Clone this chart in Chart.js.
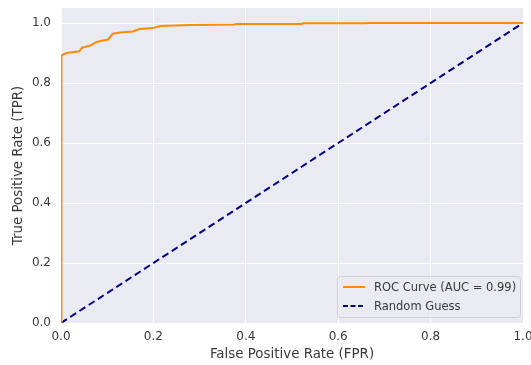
<!DOCTYPE html>
<html>
<head>
<meta charset="utf-8">
<script src="https://cdn.jsdelivr.net/npm/chart.js@4"></script>
<style>
    html, body { margin: 0; padding: 0; background: #fff; }
    #grafico { width: 531px; height: 365px; }
</style>
</head>
<body>
<div id="grafico"><canvas id="roc"></canvas></div>
<script>
// ROC curve (fpr, tpr)
const fpr = [0, 0, 0.002, 0.012, 0.04, 0.045, 0.065, 0.075, 0.085, 0.102, 0.112, 0.128, 0.155, 0.17, 0.198, 0.215, 0.28, 0.375, 0.38, 0.52, 0.525, 0.66, 0.665, 1];
const tpr = [0, 0.81, 0.892, 0.9, 0.906, 0.917, 0.926, 0.935, 0.94, 0.945, 0.964, 0.968, 0.972, 0.98, 0.983, 0.99, 0.993, 0.995, 0.997, 0.997, 0.999, 0.999, 1, 1];
const guessX = [0, 1];
const guessY = [0, 1];
const xTicks = [0, 0.2, 0.4, 0.6, 0.8, 1.0];
const yTicks = [0, 0.2, 0.4, 0.6, 0.8, 1.0];
const legendLabels = ['ROC Curve (AUC = 0.99)', 'Random Guess'];

const fonte = 'DejaVu Sans';
const corTexto = '#3a3a3a';

const rocPts = fpr.map((x, i) => ({ x: x, y: tpr[i] }));
const guessPts = guessX.map((x, i) => ({ x: x, y: guessY[i] }));

// fundo cinza do seaborn
const pluginFundo = {
    id: 'fundo',
    beforeDraw: function (chart) {
        let a = chart.chartArea;
        let ctx = chart.ctx;
        ctx.save();
        ctx.fillStyle = '#eaeaf2';
        ctx.fillRect(a.left, a.top, a.right - a.left, a.bottom - a.top);
        ctx.restore();
    }
};

// legenda dentro do gráfico, canto inferior direito
const pluginLegenda = {
    id: 'legendaDentro',
    afterDraw: function (chart) {
        let ctx = chart.ctx;
        let a = chart.chartArea;
        let w = 183, h = 41;
        let x = a.right - 3 - w;
        let y = a.bottom - 6 - h;
        ctx.save();
        ctx.fillStyle = 'rgba(234,234,242,0.8)';
        ctx.strokeStyle = '#d0d0d8';
        ctx.lineWidth = 1;
        ctx.beginPath();
        ctx.roundRect(x + 0.5, y + 0.5, w, h, 3);
        ctx.fill();
        ctx.stroke();

        ctx.font = '11.5px ' + fonte;
        ctx.textBaseline = 'middle';
        ctx.fillStyle = corTexto;
        let cores = ['#ff8c00', '#000080'];
        let dashes = [[5, 2.5], [5, 2.5]];
        dashes[0] = [];
        legendLabels.forEach((txt, i) => {
            let ly = y + 11 + i * 19;
            ctx.strokeStyle = cores[i];
            ctx.lineWidth = 2;
            ctx.setLineDash(dashes[i]);
            ctx.beginPath();
            ctx.moveTo(x + 6, ly);
            ctx.lineTo(x + 28, ly);
            ctx.stroke();
            ctx.setLineDash([]);
            ctx.fillText(txt, x + 37, ly + 1);
        });
        ctx.restore();
    }
};

new Chart(document.getElementById('roc'), {
    type: 'scatter',
    data: {
        datasets: [
            {
                label: legendLabels[0],
                data: rocPts,
                showLine: true,
                borderColor: '#ff8c00',
                borderWidth: 2,
                pointRadius: 0,
                tension: 0
            },
            {
                label: legendLabels[1],
                data: guessPts,
                showLine: true,
                borderColor: '#000080',
                borderWidth: 2,
                borderDash: [7, 4],
                pointRadius: 0
            }
        ]
    },
    options: {
        responsive: true,
        maintainAspectRatio: false,
        animation: false,
        layout: { padding: { top: 8, right: 8, left: 0, bottom: 0 } },
        scales: {
            x: {
                min: 0,
                max: 1,
                afterBuildTicks: s => { s.ticks = xTicks.map(v => ({ value: v })); },
                afterFit: s => { s.height = 42; s.paddingLeft = 0; s.paddingRight = 0; },
                grid: { color: '#ffffff', lineWidth: 1, drawTicks: false },
                border: { display: false },
                ticks: {
                    padding: 7,
                    color: corTexto,
                    font: { family: fonte, size: 12 },
                    maxRotation: 0,
                    callback: v => Number(v).toFixed(1)
                },
                title: {
                    display: true,
                    text: 'False Positive Rate (FPR)',
                    color: corTexto,
                    font: { family: fonte, size: 13.4 },
                    padding: { top: 1, bottom: 2 }
                }
            },
            y: {
                min: 0,
                max: 1.05,
                afterBuildTicks: s => { s.ticks = yTicks.map(v => ({ value: v })); },
                afterFit: s => { s.width = 61; s.paddingTop = 0; s.paddingBottom = 0; },
                grid: { color: '#ffffff', lineWidth: 1, drawTicks: false },
                border: { display: false },
                ticks: {
                    padding: 10,
                    color: corTexto,
                    font: { family: fonte, size: 12 },
                    callback: v => Number(v).toFixed(1)
                },
                title: {
                    display: true,
                    text: 'True Positive Rate (TPR)',
                    color: corTexto,
                    font: { family: fonte, size: 13.4 },
                    padding: { top: 10, bottom: 4 }
                }
            }
        },
        plugins: {
            legend: { display: false },
            tooltip: { enabled: false }
        }
    },
    plugins: [pluginFundo, pluginLegenda]
});
</script>
</body>
</html>
